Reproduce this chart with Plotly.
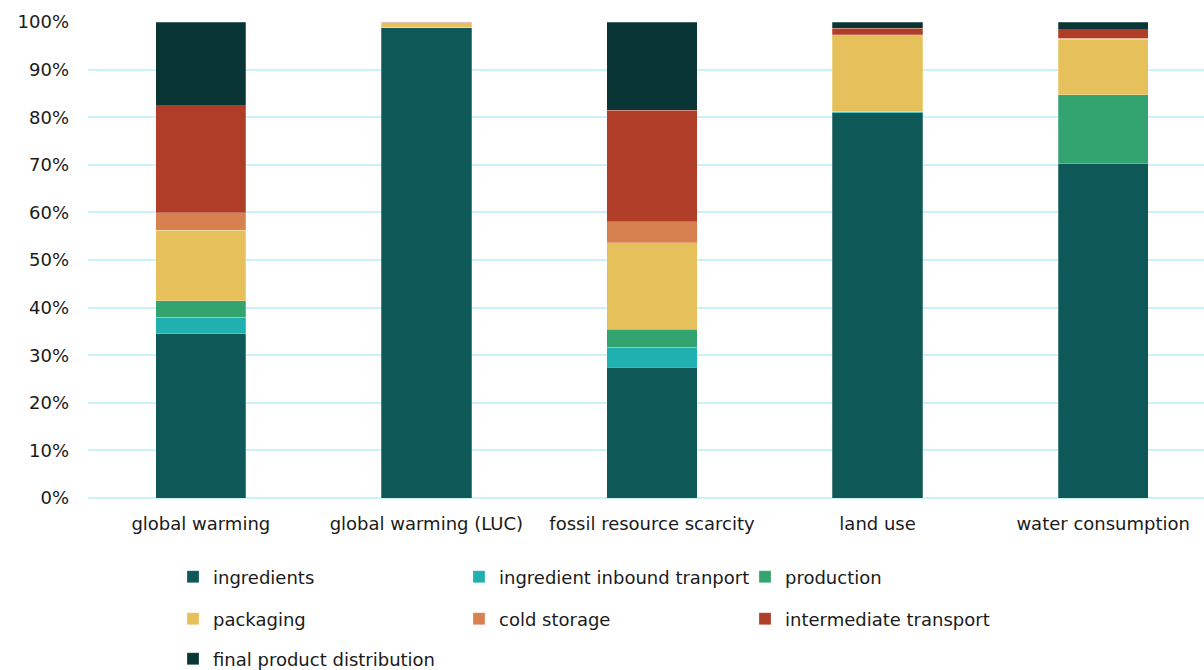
import plotly.graph_objects as go

categories = ["global warming", "global warming (LUC)", "fossil resource scarcity", "land use", "water consumption"]

ingredients = [34.5, 98.9, 27.5, 80.9, 70.2]
inbound = [3.5, 0.0, 4.2, 0.4, 0.0]
production = [3.4, 0.0, 3.8, 0.0, 14.5]
packaging = [14.9, 0.9, 18.1, 16.0, 11.7]
cold_storage = [3.6, 0.0, 4.4, 0.0, 0.2]
intermediate = [22.5, 0.2, 23.5, 1.4, 1.8]
final_dist = [17.6, 0.0, 18.5, 1.3, 1.6]

series = [
    ("ingredients", ingredients, "#0F5858", "legend"),
    ("ingredient inbound tranport", inbound, "#1FB0AF", "legend"),
    ("production", production, "#33A46F", "legend"),
    ("packaging", packaging, "#E6C05B", "legend2"),
    ("cold storage", cold_storage, "#D88150", "legend2"),
    ("intermediate transport", intermediate, "#B03D28", "legend2"),
    ("final product distribution", final_dist, "#0A3535", "legend3"),
]

font_family = "DejaVu Sans, sans-serif"
fsize = 18

fig = go.Figure()
for name, vals, color, lg in series:
    fig.add_trace(go.Bar(
        x=categories, y=vals, name=name, legend=lg,
        marker=dict(color=color, line=dict(color="rgba(255,255,255,0.35)", width=0.7)),
        width=0.4,
    ))

leg_common = dict(orientation="h", xref="container", yref="container",
                  xanchor="left", yanchor="middle", entrywidth=241,
                  traceorder="normal",
                  font=dict(family=font_family, size=fsize, color="#1a1a1a"),
                  bgcolor="rgba(0,0,0,0)", itemclick=False)

fig.update_layout(
    barmode="stack",
    width=1204, height=670,
    margin=dict(l=88, r=0, t=22, b=172),
    plot_bgcolor="white", paper_bgcolor="white",
    font=dict(family=font_family, size=fsize, color="#1a1a1a"),
    bargap=0.6,
    showlegend=True,
    legend=dict(x=173 / 1204, y=1 - 577 / 670, **leg_common),
    legend2=dict(x=173 / 1204, y=1 - 619 / 670, **leg_common),
    legend3=dict(x=173 / 1204, y=1 - 659 / 670, **leg_common),
    xaxis=dict(range=[-0.5, 4.447], showgrid=False, showline=False, ticks="",
               ticklabelstandoff=13,
               tickfont=dict(family=font_family, size=fsize, color="#1a1a1a")),
    yaxis=dict(range=[0, 100], dtick=10, ticksuffix="%", showgrid=True,
               gridcolor="#C9F4F5", gridwidth=1.5, zeroline=True,
               zerolinecolor="#C9F4F5", zerolinewidth=1.5, showline=False,
               ticklabelstandoff=18,
               tickfont=dict(family=font_family, size=fsize, color="#1a1a1a")),
)

fig.write_html("out.html")
